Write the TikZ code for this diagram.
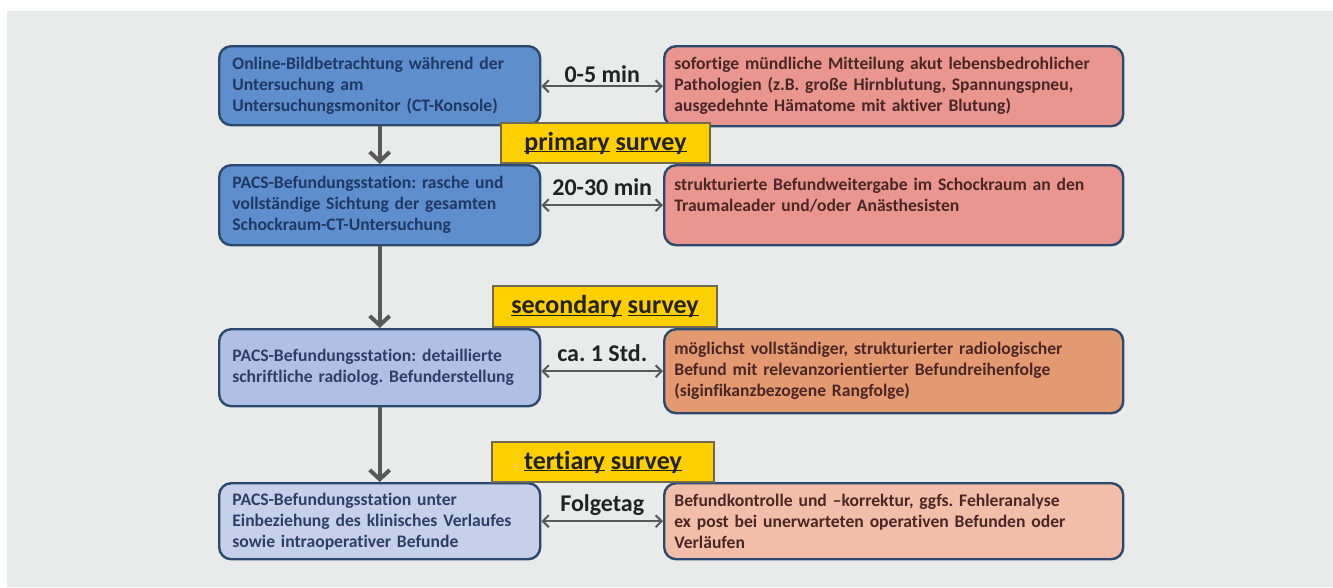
\documentclass[tikz,border=0pt]{standalone}
\usepackage{fontspec}
\setmainfont{Carlito}[Ligatures=CommonOff]
\usetikzlibrary{arrows.meta,calc}

\definecolor{panelgray}{HTML}{E9EBEA}
\definecolor{boxline}{HTML}{2B4A6E}
\definecolor{bluefill}{HTML}{5E8ECC}
\definecolor{paleblue}{HTML}{B0C0E4}
\definecolor{paleblueb}{HTML}{C6D0E9}
\definecolor{salmon}{HTML}{E8968F}
\definecolor{orangefill}{HTML}{E49A70}
\definecolor{peach}{HTML}{F2BEAA}
\definecolor{surveyyellow}{HTML}{FFD000}
\definecolor{yellowline}{HTML}{6F6A50}
\definecolor{arrowgray}{HTML}{595959}
\definecolor{navytext}{HTML}{1F3864}
\definecolor{slatetext}{HTML}{2E3F66}
\definecolor{redtext}{HTML}{4A2626}
\definecolor{labeltext}{HTML}{222222}

\frenchspacing
% underline one word at a fixed depth
\newcommand\ulword[1]{\setbox0\hbox{#1}\rlap{\rule[-1.8pt]{\wd0}{0.9pt}}\box0\relax}

\begin{document}
\begin{tikzpicture}[x=0.75pt, y=-0.75pt,
  leftbox/.style={draw=boxline, line width=1.8pt, rounded corners=9pt, anchor=north west,
    align=left, text width=221pt, inner xsep=9.875pt, inner ysep=0pt, minimum width=240.75pt,
    text=navytext, font=\bfseries\fontsize{13.2}{15.75}\selectfont},
  rightbox/.style={leftbox, text width=329pt, inner xsep=7.625pt, minimum width=344.25pt, text=redtext},
  surveybox/.style={draw=yellowline, line width=0.8pt, fill=surveyyellow, inner sep=0pt,
    text=labeltext, font=\bfseries\fontsize{19.5}{22}\selectfont},
  timelbl/.style={font=\bfseries\fontsize{18}{20}\selectfont, text=labeltext, anchor=base, inner sep=0pt},
  flowarrow/.style={draw=arrowgray, line width=3pt, -{Straight Barb[length=7pt,width=15pt]}},
  biarrow/.style={draw=arrowgray, line width=1.5pt,
    {Straight Barb[length=4.5pt,width=9pt]}-{Straight Barb[length=4.5pt,width=9pt]}}
]
  % Background panel
  \fill[white] (0,0) rectangle (1333,587);
  \fill[panelgray] (7,11) rectangle (1333,587);
  \useasboundingbox (0,0) rectangle (1333,587);

  % Left column
  \node[leftbox, fill=bluefill, minimum height=59.25pt] (online) at (218,45)
    {Online-Bildbetrachtung während der\\Untersuchung am\\Untersuchungsmonitor (CT-Konsole)};
  \node[leftbox, fill=bluefill, minimum height=60pt] (pacsa) at (218,164)
    {PACS-Befundungsstation: rasche und\\vollständige Sichtung der gesamten\\Schockraum-CT-Untersuchung};
  \node[leftbox, fill=paleblue, text=slatetext, minimum height=57.75pt] (pacsb) at (218,328)
    {PACS-Befundungsstation: detaillierte\\schriftliche radiolog. Befunderstellung};
  \node[leftbox, fill=paleblueb, text=slatetext, minimum height=57pt] (pacsc) at (218,482)
    {PACS-Befundungsstation unter\\Einbeziehung des klinisches Verlaufes\\sowie intraoperativer Befunde};

  % Right column
  \node[rightbox, fill=salmon, minimum height=60pt] (oral) at (663,45)
    {sofortige mündliche Mitteilung akut lebensbedrohlicher\\Pathologien (z.B. große Hirnblutung, Spannungspneu,\\ausgedehnte Hämatome mit aktiver Blutung)};
  \node[rightbox, fill=salmon, minimum height=60pt] (handover) at (663,164)
    {strukturierte Befundweitergabe im Schockraum an den\\Traumaleader und/oder Anästhesisten\\\mbox{}};
  \node[rightbox, fill=orangefill, minimum height=63pt] (report) at (663,328)
    {möglichst vollständiger, strukturierter radiologischer\\Befund mit relevanzorientierter Befundreihenfolge\\(siginfikanzbezogene Rangfolge)};
  \node[rightbox, fill=peach, minimum height=57pt] (control) at (663,482)
    {Befundkontrolle und –korrektur, ggfs. Fehleranalyse\\ex post bei unerwarteten operativen Befunden oder\\Verläufen};

  % Flow downwards
  \draw[flowarrow] (online.south) -- (pacsa.north);
  \draw[flowarrow] (pacsa.south) -- (pacsb.north);
  \draw[flowarrow] (pacsb.south) -- (pacsc.north);

  % Time links
  \draw[biarrow] (oral.west -| online.east) -- node[timelbl, yshift=2.5pt] {0-5 min} (oral.west);
  \draw[biarrow] (handover.west -| pacsa.east) -- node[timelbl, yshift=7.5pt] {20-30 min} (handover.west);
  \draw[biarrow] (report.west -| pacsb.east) -- node[timelbl, yshift=7.5pt] {ca. 1 Std.} (report.west);
  \draw[biarrow] (control.west -| pacsc.east) -- node[timelbl, yshift=7.5pt] {Folgetag} (control.west);

  % Survey labels
  \node[surveybox, minimum width=156.75pt, minimum height=30pt] (primary) at (605.5,143)
    {\ulword{primary} \ulword{survey}};
  \node[surveybox, minimum width=168pt, minimum height=30.75pt] (secondary) at (605,306.5)
    {\ulword{secondary} \ulword{survey}};
  \node[surveybox, minimum width=166.5pt, minimum height=30pt] (tertiary) at (603,462)
    {\ulword{tertiary} \ulword{survey}};
\end{tikzpicture}
\end{document}
